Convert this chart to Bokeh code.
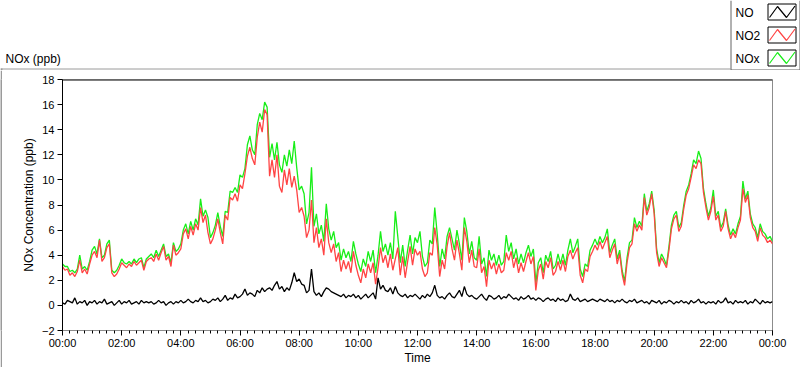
from bokeh.plotting import figure
from bokeh.models import FixedTicker, Range1d, Span
from bokeh.layouts import column, row
from bokeh.core.properties import value
from bokeh.embed import file_html
from bokeh.resources import INLINE

# ---------------- data (5-minute samples, 00:00 .. 24:00) ----------------
STEP_MINUTES = 5

NO2 = [
    3.1, 2.8, 2.9, 2.4, 2.6, 2.3, 2.7, 3.6, 2.6, 2.9, 2.5, 3.3,
    4.0, 4.3, 3.8, 5.2, 3.5, 3.8, 4.6, 4.9, 2.6, 2.3, 2.5, 2.9,
    3.4, 3.2, 3.0, 3.3, 3.1, 3.5, 3.2, 3.4, 3.6, 2.8, 3.5, 3.7,
    3.8, 3.5, 4.1, 3.6, 4.2, 4.7, 3.6, 3.9, 3.1, 4.8, 4.0, 4.2,
    4.5, 5.7, 6.1, 5.3, 6.3, 5.6, 6.5, 6.0, 7.8, 6.6, 7.2, 5.8,
    4.9, 5.3, 6.0, 6.9, 5.8, 4.9, 7.2, 6.8, 8.6, 8.4, 8.9, 8.3,
    9.6, 9.3, 10.5, 11.9, 12.6, 11.7, 11.2, 13.4, 14.6, 13.8, 15.6, 15.2,
    10.3, 11.6, 10.2, 12.0, 9.5, 9.0, 10.8, 9.6, 10.9, 9.4, 10.3, 9.2,
    7.4, 7.8, 7.1, 5.4, 6.0, 8.4, 5.0, 6.2, 4.6, 5.3, 4.0, 6.9,
    5.0, 4.2, 4.9, 3.5, 4.2, 2.7, 3.6, 2.9, 3.5, 2.6, 4.3, 3.2,
    2.4, 1.8, 2.9, 2.2, 3.3, 2.6, 3.4, 1.7, 3.0, 4.6, 3.4, 4.0,
    3.0, 4.1, 2.8, 3.7, 4.6, 2.4, 3.9, 2.2, 3.5, 4.7, 3.2, 4.5,
    4.0, 4.3, 2.9, 2.3, 2.6, 4.2, 4.0, 6.2, 4.8, 2.3, 3.6, 2.9,
    4.7, 5.8, 4.5, 3.6, 5.2, 4.1, 2.8, 6.2, 5.1, 3.4, 4.4, 3.1,
    3.0, 4.5, 2.6, 3.1, 1.5, 3.6, 2.9, 3.4, 2.5, 3.3, 2.6, 2.8,
    4.2, 3.6, 4.3, 3.0, 3.8, 2.6, 3.4, 2.7, 3.5, 4.2, 3.3, 3.9,
    1.2, 2.8, 3.3, 2.1, 3.5, 3.0, 3.8, 2.4, 2.7, 3.5, 2.8, 3.6,
    2.7, 3.9, 4.4, 3.7, 4.2, 4.6, 2.4, 1.8, 2.9, 2.7, 3.9, 4.3,
    4.8, 4.4, 5.1, 4.5, 5.0, 5.5, 3.8, 4.4, 4.9, 3.3, 4.1, 2.5,
    1.6, 3.4, 4.6, 4.9, 6.5, 5.9, 6.4, 6.0, 8.6, 7.2, 7.8, 8.9,
    7.3, 4.2, 3.1, 3.8, 3.4, 3.0, 4.4, 6.1, 6.9, 7.2, 5.9, 6.3,
    7.7, 8.8, 9.3, 10.2, 11.2, 10.9, 11.6, 11.3, 9.0, 7.8, 6.8, 7.5,
    8.7, 6.8, 7.2, 5.9, 6.3, 7.5, 6.1, 5.3, 5.8, 5.4, 6.2, 6.8,
    9.3, 8.2, 8.8, 7.0, 6.2, 5.9, 5.1, 6.2, 5.6, 5.4, 5.0, 5.2,
    4.9,
]

NOX = [
    3.3, 3.1, 3.1, 2.7, 2.8, 2.6, 2.9, 4.0, 2.9, 3.1, 2.8, 3.5,
    4.4, 4.7, 4.1, 5.3, 3.8, 4.0, 4.9, 5.2, 2.8, 2.6, 2.8, 3.2,
    3.7, 3.4, 3.3, 3.5, 3.3, 3.7, 3.4, 3.7, 3.8, 3.0, 3.7, 3.9,
    4.1, 3.8, 4.4, 3.9, 4.4, 4.9, 3.9, 4.1, 3.4, 5.0, 4.3, 4.5,
    4.9, 6.0, 6.5, 5.7, 6.7, 6.0, 6.9, 6.4, 8.5, 7.1, 7.6, 7.0,
    5.4, 5.8, 6.4, 7.4, 6.3, 5.5, 7.5, 7.4, 9.1, 9.0, 9.4, 9.0,
    10.4, 10.2, 10.9, 12.8, 13.5, 12.4, 12.0, 14.4, 15.3, 14.8, 16.2, 15.8,
    11.8, 12.9, 11.6, 13.0, 11.2, 10.6, 12.0, 11.1, 12.4, 11.3, 13.1, 11.0,
    9.2, 9.5, 8.9, 6.5, 7.4, 11.0, 6.3, 7.3, 5.7, 6.4, 5.1, 8.1,
    6.1, 5.2, 5.9, 4.6, 5.0, 3.6, 4.5, 3.8, 4.3, 3.5, 5.1, 4.1,
    3.3, 2.7, 3.7, 3.1, 4.3, 3.5, 4.4, 2.6, 4.0, 5.9, 4.3, 4.9,
    4.0, 5.0, 3.7, 7.5, 5.5, 3.4, 4.8, 3.1, 4.4, 5.6, 4.1, 5.4,
    5.0, 5.9, 3.9, 3.1, 3.4, 5.2, 4.9, 7.8, 5.7, 3.1, 4.5, 3.7,
    5.5, 6.2, 5.3, 4.4, 6.0, 4.9, 3.6, 7.0, 5.9, 4.1, 5.1, 3.8,
    3.6, 5.5, 3.3, 3.8, 2.3, 4.4, 3.6, 4.1, 3.2, 4.0, 3.2, 3.5,
    5.6, 4.3, 5.0, 3.7, 4.5, 3.3, 4.1, 3.4, 4.2, 4.8, 3.9, 4.5,
    1.8, 3.4, 3.8, 2.6, 4.0, 3.5, 4.3, 2.9, 3.2, 4.1, 3.3, 4.1,
    3.2, 4.4, 5.3, 4.2, 4.7, 5.3, 2.9, 2.3, 3.3, 3.1, 4.4, 4.8,
    5.3, 4.8, 5.5, 5.0, 5.4, 6.1, 4.2, 4.8, 5.3, 3.7, 4.4, 2.8,
    1.9, 3.8, 5.0, 5.2, 7.0, 6.2, 6.7, 6.3, 8.9, 7.5, 8.1, 9.1,
    7.6, 4.5, 3.4, 4.1, 3.7, 3.2, 4.7, 6.4, 7.2, 7.5, 6.2, 6.6,
    8.0, 9.1, 9.6, 10.5, 11.6, 11.3, 12.3, 11.7, 9.3, 8.1, 7.1, 7.8,
    9.2, 7.1, 7.5, 6.2, 6.6, 7.7, 6.4, 5.6, 6.1, 5.7, 6.5, 7.1,
    9.9, 8.5, 9.1, 7.3, 6.5, 6.2, 5.4, 6.5, 5.9, 5.7, 5.3, 5.5,
    5.1,
]

NO = [
    0.2, 0.1, 0.4, 0.3, 0.2, 0.6, 0.1, 0.3, 0.2, 0.4, 0.0, 0.3,
    0.2, 0.4, 0.1, 0.3, 0.2, 0.5, 0.1, 0.2, 0.3, 0.0, 0.2, 0.4,
    0.1, 0.3, 0.2, 0.4, 0.1, 0.2, 0.3, 0.1, 0.4, 0.2, 0.3, 0.2,
    0.3, 0.1, 0.2, 0.4, 0.2, 0.3, 0.0, 0.2, 0.3, 0.1, 0.3, 0.2,
    0.4, 0.2, 0.3, 0.5, 0.3, 0.2, 0.4, 0.3, 0.6, 0.3, 0.4, 0.2,
    0.3, 0.5, 0.4, 0.6, 0.3, 0.5, 0.8, 0.4, 0.6, 0.5, 0.9, 0.6,
    0.7, 0.9, 1.3, 0.8, 1.0, 0.9, 0.7, 1.2, 1.0, 1.4, 1.1, 1.3,
    1.4, 1.2, 1.6, 1.9, 1.3, 1.5, 1.1, 1.4, 1.2, 1.8, 2.6, 1.9,
    2.1, 1.7, 1.6, 1.0, 1.2, 2.9, 1.1, 0.8, 1.0, 0.7, 1.1, 1.4,
    1.3, 1.1, 1.0, 0.9, 0.8, 0.7, 0.9, 0.6, 0.8, 0.7, 0.9, 0.6,
    0.8, 0.5, 0.7, 0.9, 0.6, 0.8, 1.0, 0.5, 2.2, 1.3, 1.6, 1.2,
    1.1, 1.4, 0.9, 1.5, 1.0, 0.8, 0.7, 0.9, 0.6, 0.8, 0.7, 0.9,
    0.7, 0.5, 0.8, 0.6, 0.9, 0.7, 1.0, 1.6, 0.8, 0.6, 0.7, 0.5,
    0.8, 1.0, 0.7, 0.6, 0.9, 1.2, 0.7, 1.5, 0.9, 0.7, 0.8, 0.6,
    0.5, 0.7, 0.9, 0.6, 0.4, 0.8, 0.7, 0.5, 0.6, 0.8, 0.5, 0.7,
    0.6, 0.9, 0.7, 0.5, 0.6, 0.4, 0.7, 0.5, 0.6, 0.8, 0.5, 0.6,
    0.4, 0.6, 0.5, 0.3, 0.5, 0.6, 0.4, 0.5, 0.3, 0.6, 0.4, 0.5,
    0.3, 0.4, 0.9, 0.5, 0.4, 0.6, 0.3, 0.4, 0.5, 0.3, 0.4, 0.5,
    0.4, 0.3, 0.5, 0.4, 0.3, 0.5, 0.3, 0.4, 0.2, 0.4, 0.3, 0.5,
    0.3, 0.2, 0.4, 0.3, 0.5, 0.2, 0.3, 0.4, 0.2, 0.3, 0.1, 0.4,
    0.3, 0.2, 0.4, 0.1, 0.3, 0.2, 0.4, 0.3, 0.1, 0.3, 0.2, 0.4,
    0.2, 0.3, 0.1, 0.4, 0.2, 0.3, 0.5, 0.2, 0.3, 0.1, 0.3, 0.2,
    0.3, 0.1, 0.4, 0.2, 0.3, 0.6, 0.2, 0.3, 0.1, 0.4, 0.2, 0.3,
    0.2, 0.4, 0.1, 0.3, 0.2, 0.5, 0.3, 0.1, 0.4, 0.2, 0.3, 0.2,
    0.3,
]

Y_TICKS = [-2, 0, 2, 4, 6, 8, 10, 12, 14, 16, 18]
X_TICK_HOURS = [0, 2, 4, 6, 8, 10, 12, 14, 16, 18, 20, 22, 24]
X_TICK_LABELS = ["00:00", "02:00", "04:00", "06:00", "08:00", "10:00", "12:00",
                 "14:00", "16:00", "18:00", "20:00", "22:00", "00:00"]
SERIES_NAMES = ["NO", "NO2", "NOx"]
SERIES_COLORS = ["#000000", "#ff4444", "#18ee18"]
CHART_TITLE = "NOx (ppb)"
Y_LABEL = "NOx Concentration (ppb)"
X_LABEL = "Time"

hours = [i * STEP_MINUTES / 60.0 for i in range(len(NO2))]

FONT = "Liberation Sans"
PANEL_GRAY = "#9a9a9a"

# ---------------- header strip (title + legend), pixel coordinates ----------------
HEAD_W, HEAD_H = 800, 70
head = figure(width=HEAD_W, height=HEAD_H, x_range=Range1d(0, HEAD_W), y_range=Range1d(HEAD_H, 0),
              x_axis_type=None, y_axis_type=None, output_backend="svg", toolbar_location=None,
              min_border=0, outline_line_color=None)
head.background_fill_color = "white"
head.border_fill_color = "white"

head.text(x=[5], y=[58], text=[CHART_TITLE], text_font=value(FONT), text_font_size="12px",
          text_baseline="middle", text_align="left", text_color="black")

# panel border lines
head.segment(x0=[0], y0=[68.5], x1=[730], y1=[68.5], line_color=PANEL_GRAY, line_width=1)
head.segment(x0=[1], y0=[68], x1=[1], y1=[70], line_color=PANEL_GRAY, line_width=2)

# legend frame
LG = "#646464"
head.segment(x0=[730.5, 799.5, 730.5], y0=[0, 0, 69.5],
             x1=[730.5, 799.5, 799.5], y1=[69.5, 69.5, 69.5], line_color=LG, line_width=1)

tops = [3.5, 26.5, 49.5]
bx0, bx1 = 767.5, 795.5
for name, col, top in zip(SERIES_NAMES, SERIES_COLORS, tops):
    bot = top + 16
    head.segment(x0=[bx0, bx0, bx0, bx1], y0=[top, bot, top, top],
                 x1=[bx1, bx1, bx0, bx1], y1=[top, bot, bot, bot], line_color="black", line_width=1)
    head.line(x=[bx0 + 1.5, bx0 + 9.5, bx0 + 18.5, bx0 + 27],
              y=[bot - 2.5, top + 2.5, bot - 2.5, top + 2],
              line_color=col, line_width=1.2)
    head.text(x=[735], y=[top + 8.5], text=[name], text_font=value(FONT), text_font_size="12px",
              text_baseline="middle", text_align="left", text_color="black")

# ---------------- main chart ----------------
W, H = 798, 297
FL, FT, FW, FH = 60, 9, 710, 251

p = figure(width=W, height=H, x_range=(0, 24), y_range=(-2, 18),
           output_backend="svg", toolbar_location=None,
           min_border_left=FL, min_border_right=W - FL - FW,
           min_border_top=FT, min_border_bottom=H - FT - FH)
p.background_fill_color = "white"
p.border_fill_color = "white"
p.outline_line_color = "#8c8c8c"
p.xgrid.visible = False
p.ygrid.visible = False

p.line(hours, NOX, line_color=SERIES_COLORS[2], line_width=1.3)
p.line(hours, NO2, line_color=SERIES_COLORS[1], line_width=1.3)
p.line(hours, NO, line_color=SERIES_COLORS[0], line_width=1.3)

# black top edge of the plot area (half a pixel inside the frame)
p.add_layout(Span(location=18 - 0.5 * 20 / FH, dimension="width", line_color="black", line_width=1))

p.xaxis.ticker = FixedTicker(ticks=X_TICK_HOURS, minor_ticks=[q / 4 for q in range(97)])
p.xaxis.major_label_overrides = {h: lab for h, lab in zip(X_TICK_HOURS, X_TICK_LABELS)}
p.xaxis.axis_label = X_LABEL
p.xaxis.axis_line_color = "#8c8c8c"
p.xaxis.major_tick_line_color = "black"
p.xaxis.minor_tick_line_color = "black"
p.xaxis.major_tick_out = 5
p.xaxis.major_tick_in = 0
p.xaxis.minor_tick_out = 3
p.xaxis.minor_tick_in = 0
p.xaxis.major_label_standoff = 1
p.xaxis.axis_label_standoff = -1

p.yaxis.ticker = FixedTicker(ticks=Y_TICKS, minor_ticks=[])
p.yaxis.axis_label = Y_LABEL
p.yaxis.axis_line_color = "black"
p.yaxis.major_tick_line_color = "black"
p.yaxis.major_tick_out = 5
p.yaxis.major_tick_in = 0
p.yaxis.major_label_standoff = 3
p.yaxis.axis_label_standoff = 3

for ax in (p.xaxis[0], p.yaxis[0]):
    ax.major_label_text_font = FONT
    ax.major_label_text_font_size = "11px"
    ax.major_label_text_color = "black"
    ax.axis_label_text_font = FONT
    ax.axis_label_text_font_size = "12px"
    ax.axis_label_text_font_style = "normal"
    ax.axis_label_text_color = "black"

# ---------------- thin panel border strips ----------------
left_strip = figure(width=2, height=H, x_axis_type=None, y_axis_type=None,
                    output_backend="svg", toolbar_location=None, min_border=0,
                    outline_line_color=None)
left_strip.background_fill_color = PANEL_GRAY
left_strip.border_fill_color = PANEL_GRAY

bottom_strip = figure(width=800, height=2, x_axis_type=None, y_axis_type=None,
                      output_backend="svg", toolbar_location=None, min_border=0,
                      outline_line_color=None)
bottom_strip.background_fill_color = "black"
bottom_strip.border_fill_color = "black"

layout = column(head, row(left_strip, p), bottom_strip)

open("out.html", "w").write(file_html(layout, INLINE))
